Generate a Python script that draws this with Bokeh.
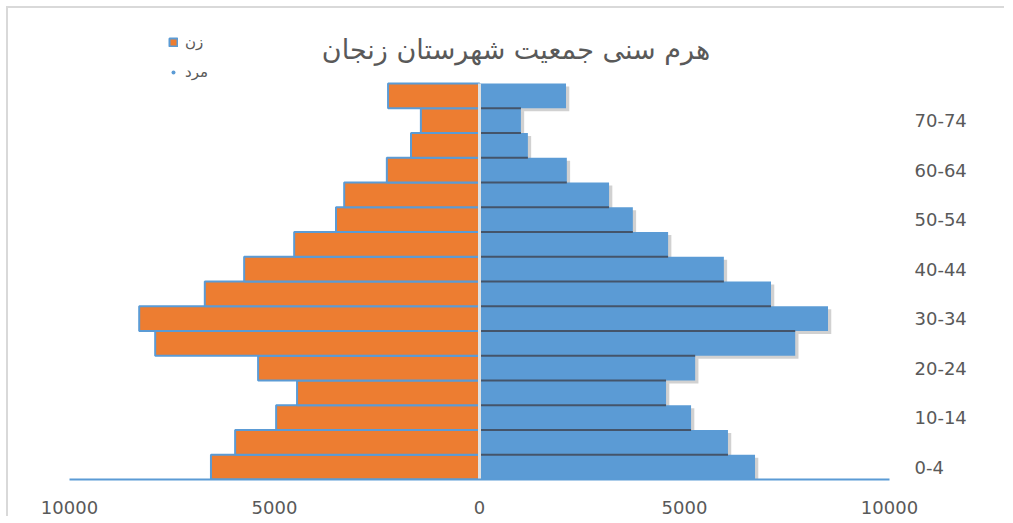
from bokeh.plotting import figure
from bokeh.models import Range1d, FixedTicker, Legend, LegendItem, ColumnDataSource, Label
from bokeh.embed import file_html
from bokeh.resources import INLINE
import numpy as np

age_groups = ["0-4", "5-9", "10-14", "15-19", "20-24", "25-29", "30-34", "35-39",
              "40-44", "45-49", "50-54", "55-59", "60-64", "65-69", "70-74", "75+"]
female = [6550, 5960, 4960, 4450, 5400, 7910, 8300, 6700, 5740, 4520, 3500, 3300, 2260, 1670, 1430, 2230]
male = [6720, 6060, 5160, 4550, 5260, 7700, 8500, 7110, 5960, 4600, 3740, 3160, 2130, 1180, 1010, 2110]
x_ticks = [-10000, -5000, 0, 5000, 10000]
x_tick_labels = ["10000", "5000", "0", "5000", "10000"]
title_text = "هرم سنی جمعیت شهرستان زنجان"
legend_female = "زن"
legend_male = "مرد"

ORANGE = "#ED7D31"
BLUE = "#5B9BD5"
TEXT = "#595959"

n = len(age_groups)
idx = np.arange(n)
fem = np.array(female)
mal = np.array(male)

FRAME_H = 460
ROW_PX = 396 / n          # pixel height of one age-group row
y_top = -0.5 + FRAME_H / ROW_PX

src = ColumnDataSource(dict(y=idx, female_left=-fem, male=mal,
                            shadow_y=idx - 0.12, shadow_r=mal + 80))
sep_src = ColumnDataSource(dict(
    x0=np.zeros(n - 1), x1=np.minimum(mal[:-1], mal[1:]),
    y=idx[:-1] + 0.5))

p = figure(frame_width=820, frame_height=FRAME_H, min_border_left=61, min_border_top=11,
           min_border_bottom=20, min_border_right=115,
           x_range=Range1d(-10000, 10000), y_range=Range1d(-0.5, y_top),
           y_axis_location="right", output_backend="svg", toolbar_location=None)
p.styles = {"border-left": "2px solid #D9D9D9", "border-top": "2px solid #D9D9D9",
            "margin-left": "6px", "margin-top": "6px"}

# shadow for male bars
p.hbar(y="shadow_y", left=0, right="shadow_r", height=1, source=src,
       fill_color="black", fill_alpha=0.18, line_color=None)
male_r = p.hbar(y="y", left=0, right="male", height=1, source=src,
                fill_color=BLUE, line_color=None)
p.segment(x0="x0", x1="x1", y0="y", y1="y", source=sep_src,
          line_color="#44546A", line_width=2)
fem_r = p.hbar(y="y", left="female_left", right=0, height=1, source=src,
               fill_color=ORANGE, line_color=BLUE, line_width=2)
p.segment(x0=[0], x1=[0], y0=[-0.5], y1=[n - 0.5], line_color="#E0E0E0", line_width=3)

dummy = p.scatter(x=[np.nan], y=[np.nan], marker="circle", size=5,
                  fill_color=BLUE, line_color=None)

# title (drawn inside the extended frame so it can share the band with the legend)
p.add_layout(Label(x=890, y=-0.5 + 430 / ROW_PX, text=title_text,
                   text_align="center", text_baseline="middle",
                   text_font="DejaVu Sans", text_font_size="27px", text_color=TEXT))

legend = Legend(items=[LegendItem(label=legend_female, renderers=[fem_r]),
                       LegendItem(label=legend_male, renderers=[dummy])],
                location=(99, 397), orientation="vertical",
                glyph_width=10, glyph_height=10, label_height=20, spacing=10,
                label_standoff=7, padding=0, margin=0,
                label_text_font="DejaVu Sans", label_text_font_size="15px",
                label_text_color=TEXT, background_fill_alpha=0, border_line_color=None)
p.add_layout(legend, "center")

# axes
xa = p.xaxis[0]
xa.ticker = FixedTicker(ticks=x_ticks)
xa.major_label_overrides = {t: l for t, l in zip(x_ticks, x_tick_labels)}
xa.axis_line_color = BLUE
xa.axis_line_width = 2
xa.major_tick_line_color = None
xa.minor_tick_line_color = None
xa.major_label_standoff = 15
xa.major_label_text_font = "DejaVu Sans"
xa.major_label_text_font_size = "18px"
xa.major_label_text_color = TEXT

ya = p.yaxis[0]
ya.ticker = FixedTicker(ticks=list(idx[::2]))
ya.major_label_overrides = {int(i): age_groups[i] for i in idx[::2]}
ya.axis_line_color = None
ya.major_tick_line_color = None
ya.minor_tick_line_color = None
ya.major_label_standoff = 19
ya.major_label_text_font = "DejaVu Sans"
ya.major_label_text_font_size = "18px"
ya.major_label_text_color = TEXT

p.xgrid.grid_line_color = None
p.ygrid.grid_line_color = None
p.outline_line_color = None
p.background_fill_color = "white"
p.border_fill_color = "white"

open("out.html", "w").write(file_html(p, INLINE))
